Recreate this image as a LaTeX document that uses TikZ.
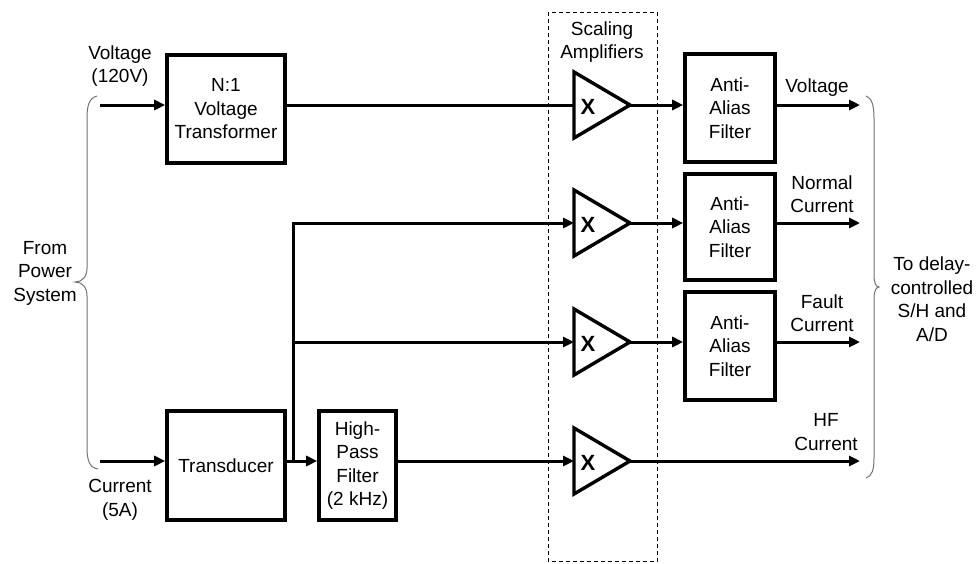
\documentclass[tikz,border=0pt]{standalone}
\usepackage{fontspec}
\setmainfont{Liberation Sans}
\usetikzlibrary{arrows.meta}
\begin{document}
\begin{tikzpicture}[x=1pt,y=-1pt,
  every node/.style={font=\fontsize{19}{23.5}\selectfont, align=center, inner sep=0pt},
  blk/.style={draw, line width=3.6pt, line join=miter},
  conn/.style={line width=3pt},
  arr/.style={conn, -{Triangle[length=11pt,width=10pt]}},
  ampshape/.style={draw, line width=3.4pt, line join=miter},
  bracestyle/.style={draw, line width=1pt, color=black!55}
]
\useasboundingbox (0,0) rectangle (977,563);
\fill[white] (0,0) rectangle (977,563);

% dashed scaling-amplifier frame
\draw[line width=1pt, dash pattern=on 4pt off 3pt] (548,12) rectangle (657,561.5);
\node (scal) at (602,42) {Scaling\\Amplifiers};

% blocks
\node[blk, minimum width=118pt, minimum height=108pt] (vt) at (226,109) {N:1\\Voltage\\Transformer};
\node[blk, minimum width=118pt, minimum height=109pt] (td) at (226,465.5) {Transducer};
\node[blk, minimum width=77pt, minimum height=109pt] (hpf) at (357.5,465.5) {High-\\Pass\\Filter\\(2 kHz)};
\node[blk, minimum width=90pt, minimum height=108pt] (aa1) at (730,108) {Anti-\\Alias\\Filter};
\node[blk, minimum width=90pt, minimum height=106pt] (aa2) at (730,227) {Anti-\\Alias\\Filter};
\node[blk, minimum width=90pt, minimum height=108pt] (aa3) at (730,346) {Anti-\\Alias\\Filter};

% amplifiers
\foreach \k/\yy in {1/105,2/223,3/342,4/461}{
  \draw[ampshape] (574,\yy-33) -- (630,\yy) -- (574,\yy+33) -- cycle;
  \node[font=\fontsize{22}{24}\selectfont\bfseries] (x\k) at (588,\yy+2) {X};
  \coordinate (a\k in) at (574,\yy);
  \coordinate (a\k out) at (630,\yy);
}

% inputs
\coordinate (vin) at (100,105);
\coordinate (iin) at (100,461);
\coordinate (br) at (293,461);
\draw[arr] (vin) -- (vin -| vt.west);
\draw[arr] (iin) -- (iin -| td.west);
\draw[conn] (vt.east |- a1in) -- (a1in);
\draw[arr] (td.east |- iin) -- (hpf.west |- iin);
\draw[arr, line join=miter] (br) |- (a2in);
\draw[arr] (br |- a3in) -- (a3in);
\draw[arr] (hpf.east |- a4in) -- (a4in);

% amp to filters
\draw[arr] (a1out) -- (a1out -| aa1.west);
\draw[arr] (a2out) -- (a2out -| aa2.west);
\draw[arr] (a3out) -- (a3out -| aa3.west);

% outputs
\coordinate (o1) at (860,105);
\coordinate (o2) at (860,223);
\coordinate (o3) at (860,342);
\coordinate (o4) at (860,461);
\draw[arr] (aa1.east |- o1) -- (o1);
\draw[arr] (aa2.east |- o2) -- (o2);
\draw[arr] (aa3.east |- o3) -- (o3);
\draw[arr] (a4out) -- (o4);

% labels
\node (lv) at (120,66) {Voltage\\(120V)};
\node (lc) at (120,500) {Current\\(5A)};
\node (lfrom) at (45,273) {From\\Power\\System};
\node (lvo) at (817,88) {Voltage};
\node (lnc) at (822,194) {Normal\\Current};
\node (lfc) at (822,313) {Fault\\Current};
\node (lhf) at (826,432) {HF\\Current};
\node (lto) at (932,299) {To delay-\\controlled\\S/H and\\A/D};

% braces
\draw[bracestyle] (97,96) .. controls (89,98) and (87,106) .. (87,118)
  -- (87,268) .. controls (87,277) and (82,282) .. (75,282)
  .. controls (82,282) and (87,287) .. (87,296)
  -- (87,448) .. controls (87,461) and (90,468) .. (98,469);
\draw[bracestyle] (866,96) .. controls (872,98) and (874,106) .. (874,118)
  -- (874,275) .. controls (874,283) and (876,287) .. (879,287)
  .. controls (876,287) and (874,291) .. (874,299)
  -- (874,458) .. controls (874,470) and (872,476) .. (866,478);
\end{tikzpicture}
\end{document}
